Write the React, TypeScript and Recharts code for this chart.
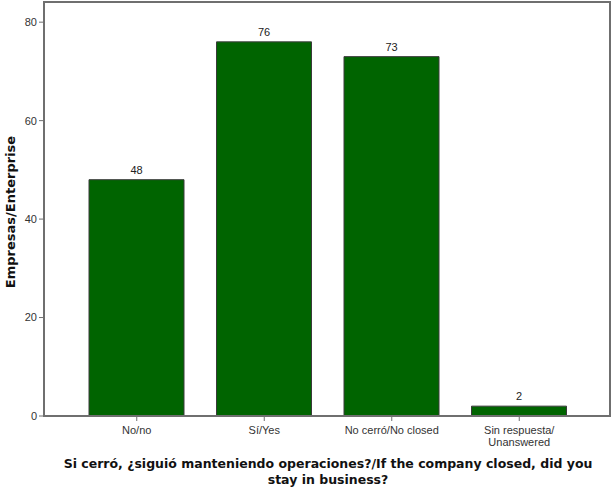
import React from 'react';
import { BarChart, Bar, XAxis, YAxis, LabelList } from 'recharts';

const categories = ['No/no', 'Sí/Yes', 'No cerró/No closed', 'Sin respuesta/\nUnanswered'];
const empresas = [48, 76, 73, 2];
const yTicks = [0, 20, 40, 60, 80];
const yMax = 84.3;

const data = categories.map((c, i) => ({ name: c, value: empresas[i] }));

const FRAME = '#6f6f6f';
const FONT = '"Liberation Sans", Arial, sans-serif';
const TITLE_FONT = '"DejaVu Sans", Verdana, sans-serif';

const XTick = (props: any) => {
  const { x, y, payload } = props;
  const lines = String(payload.value).split('\n');
  return (
    <g>
      {lines.map((l, i) => (
        <text key={i} x={x} y={y + 11 + i * 12} textAnchor="middle" fontSize={11} fill="#333" fontFamily={FONT}>
          {l}
        </text>
      ))}
    </g>
  );
};

const App: React.FC = () => {
  return (
    <div style={{ position: 'absolute', left: 0, top: 0, width: 613, height: 490, background: '#fff', fontFamily: FONT }}>
      <BarChart width={613} height={490} data={data} margin={{ top: 1, right: 3, bottom: 44, left: 0 }}>
        <XAxis
          dataKey="name"
          interval={0}
          padding={{ left: 29, right: 27 }}
          stroke={FRAME}
          tickSize={5}
          tick={<XTick />}
          height={30}
        />
        <YAxis
          domain={[0, yMax]}
          ticks={yTicks}
          width={44}
          stroke={FRAME}
          tickSize={5}
          tick={{ fontSize: 11, fill: '#333', fontFamily: FONT }}
        />
        <Bar dataKey="value" fill="#006400" stroke="#3a3a3a" strokeWidth={1} barSize={95} isAnimationActive={false}>
          <LabelList dataKey="value" position="top" offset={6} fontSize={11} fill="#222" fontFamily={FONT} />
        </Bar>
        <text x={11} y={212} transform="rotate(-90 11 212)" textAnchor="middle" dominantBaseline="middle" fontSize={13} fontWeight="bold" fill="#111" fontFamily={TITLE_FONT}>
          Empresas/Enterprise
        </text>
        <text x={328} y={468} textAnchor="middle" fontSize={12.5} fontWeight="bold" fill="#111" fontFamily={TITLE_FONT}>
          Si cerró, ¿siguió manteniendo operaciones?/If the company closed, did you
        </text>
        <text x={328} y={484} textAnchor="middle" fontSize={12.5} fontWeight="bold" fill="#111" fontFamily={TITLE_FONT}>
          stay in business?
        </text>
      </BarChart>
      {/* plot frame */}
      <svg width={613} height={490} style={{ position: 'absolute', left: 0, top: 0, pointerEvents: 'none' }}>
        <rect x={44} y={1.5} width={566} height={414.5} fill="none" stroke={FRAME} strokeWidth={2} shapeRendering="crispEdges" />
      </svg>
    </div>
  );
};

export default App;
